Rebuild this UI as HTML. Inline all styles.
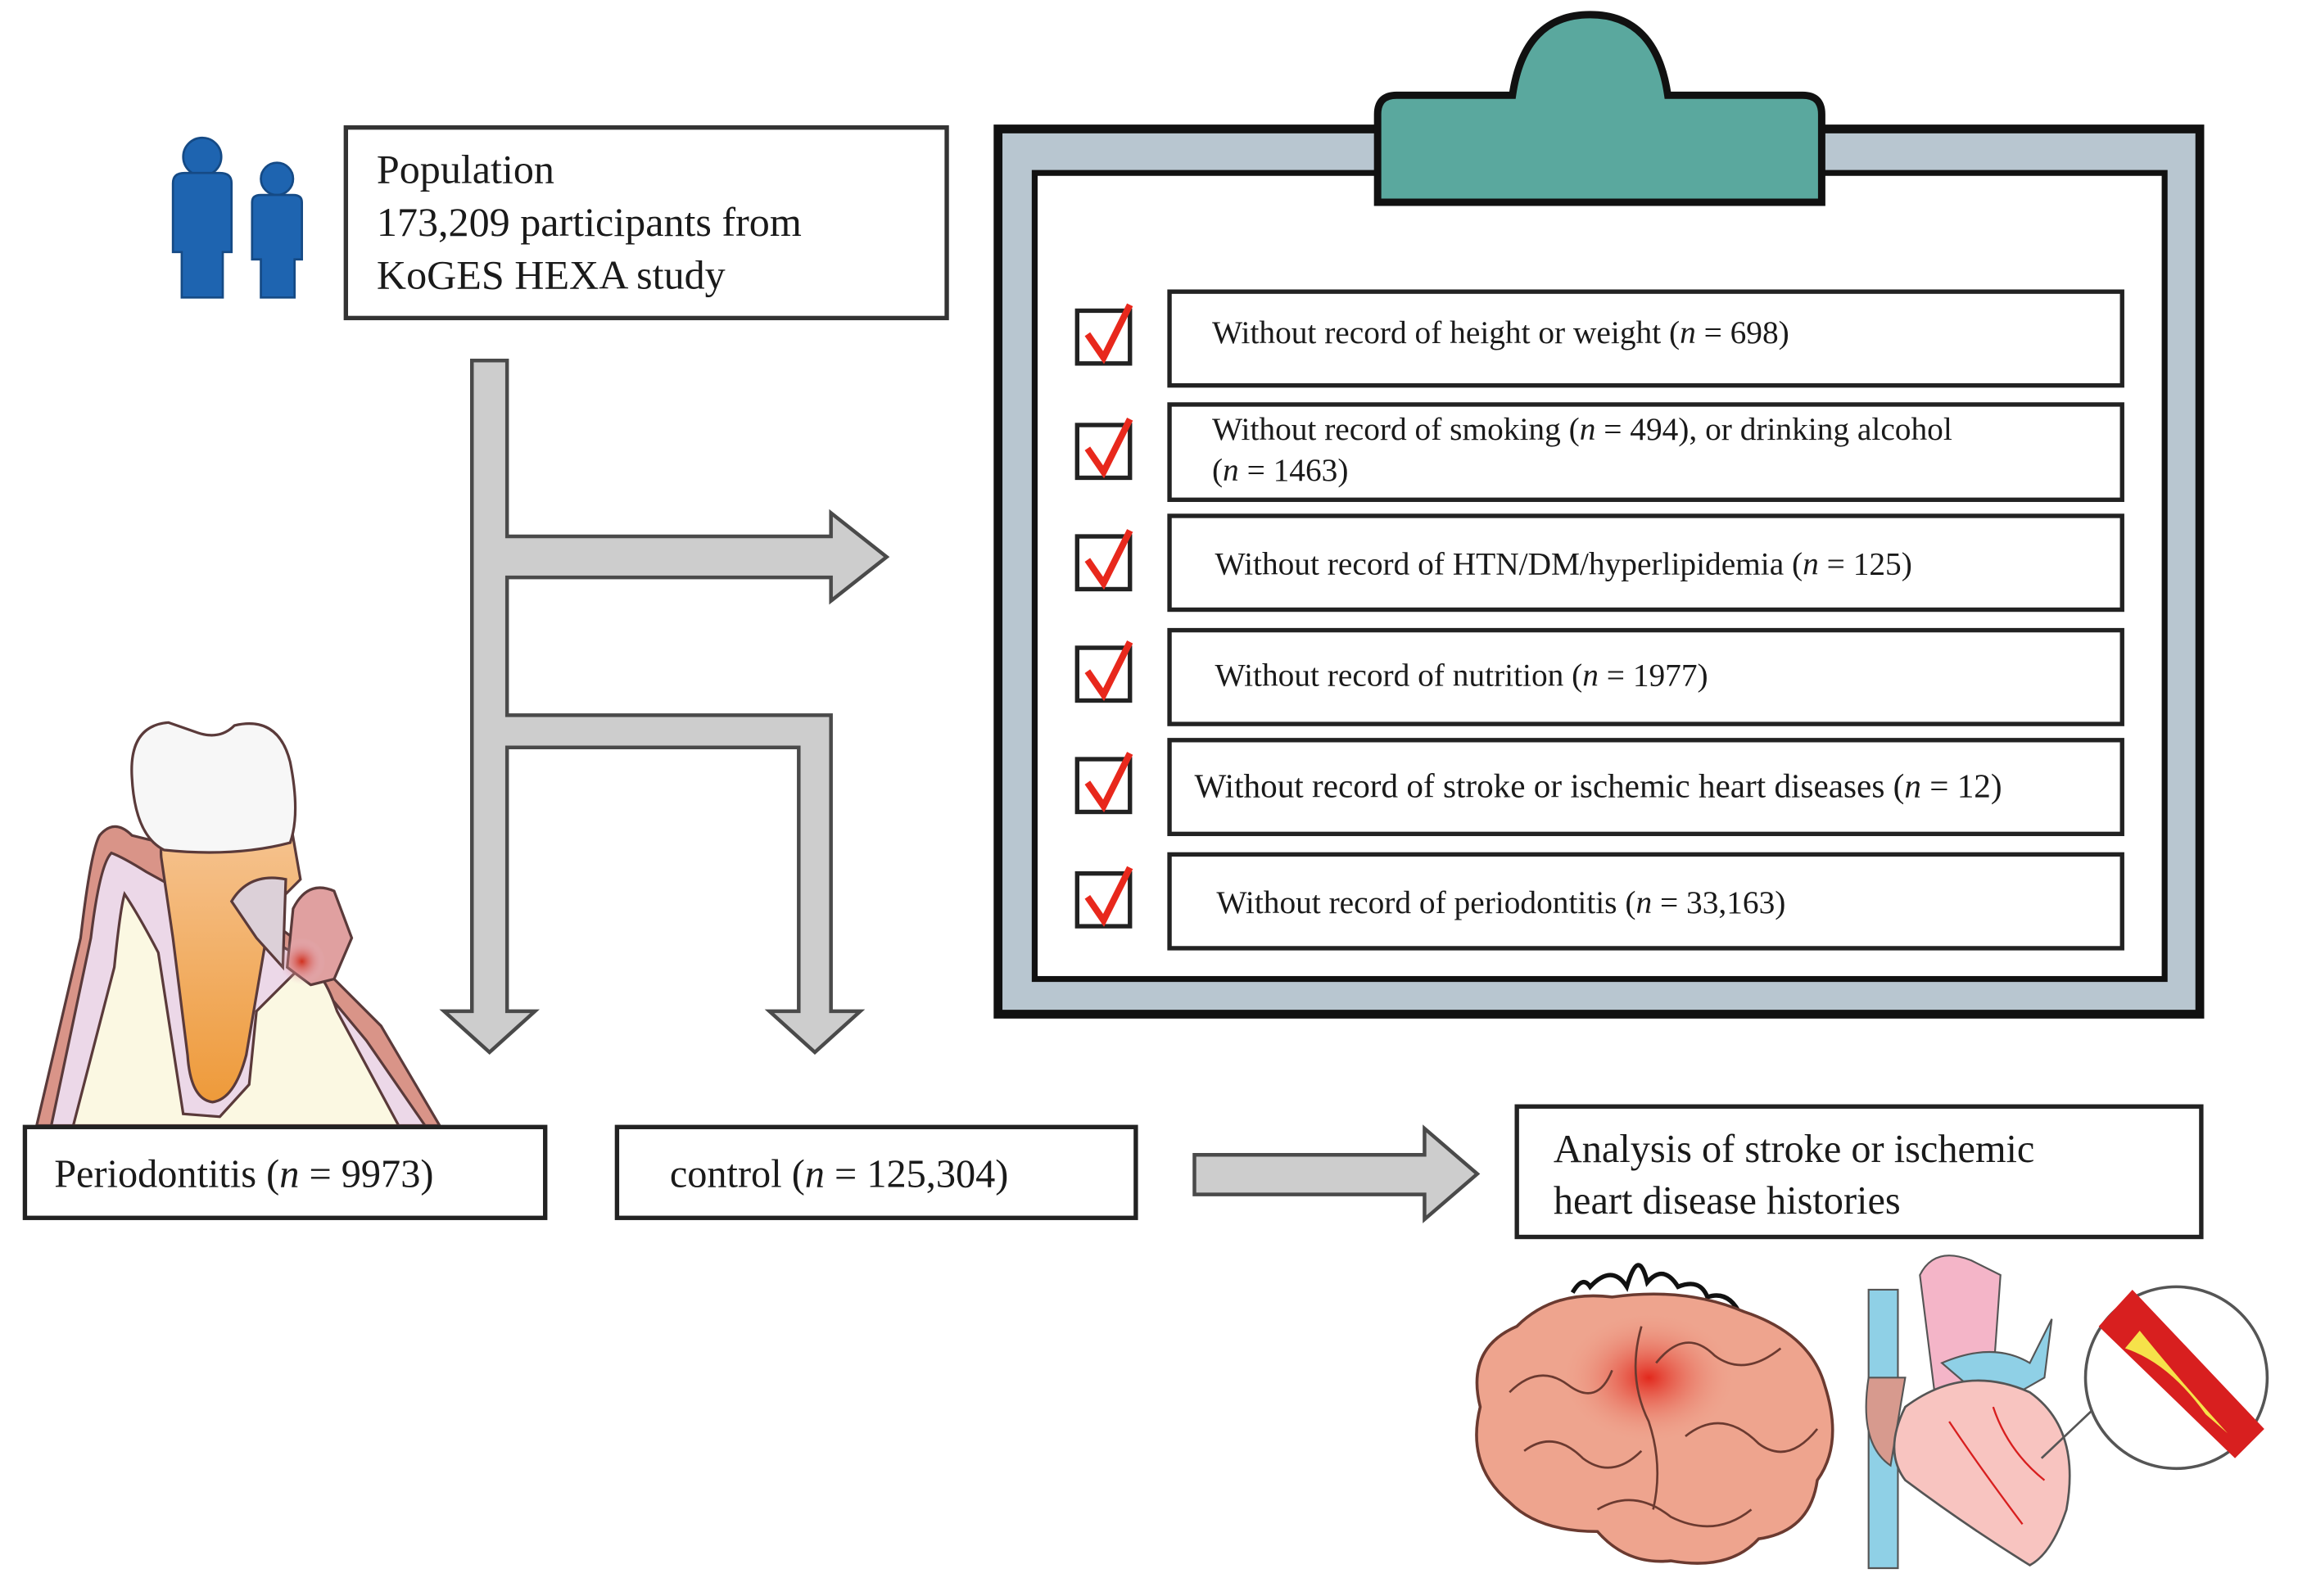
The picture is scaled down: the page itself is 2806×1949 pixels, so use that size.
<!DOCTYPE html>
<html><head><meta charset="utf-8"><style>
html,body{margin:0;padding:0;background:#fff;}
svg{display:block;}
text{font-family:"Liberation Serif",serif;fill:#1a1a1a;}
</style></head><body>
<svg width="2806" height="1949" viewBox="0 0 1568 1089" preserveAspectRatio="none" xmlns="http://www.w3.org/2000/svg">
<defs>
<radialGradient id="inf" cx="0.5" cy="0.5" r="0.5"><stop offset="0" stop-color="#d0301e"/><stop offset="1" stop-color="#e9c6d8" stop-opacity="0"/></radialGradient>
<radialGradient id="brainr" cx="0.5" cy="0.5" r="0.5"><stop offset="0" stop-color="#e2281c"/><stop offset="1" stop-color="#eea28c" stop-opacity="0"/></radialGradient>
<linearGradient id="root" x1="0" y1="0" x2="0" y2="1"><stop offset="0" stop-color="#f6c594"/><stop offset="1" stop-color="#ee9a3a"/></linearGradient>
</defs>

<!-- people -->
<g fill="#1e64b0" stroke="#154a85" stroke-width="1.5">
<circle cx="138" cy="107" r="13"/>
<path d="M118 125 Q118 118 126 118 H150 Q158 118 158 125 V172 H152 V203 H124 V172 H118 Z"/>
<circle cx="189" cy="122" r="11"/>
<path d="M172 138 Q172 133 178 133 H200 Q206 133 206 138 V177 H201 V203 H178 V177 H172 Z"/>
</g>

<!-- population box -->
<rect x="236" y="87" width="410" height="130" fill="#fff" stroke="#333" stroke-width="3"/>
<text x="257" y="125" font-size="28">Population</text>
<text x="257" y="161" font-size="28">173,209 participants from</text>
<text x="257" y="197" font-size="28">KoGES HEXA study</text>

<!-- arrow structure -->
<g fill="#cdcdcd" stroke="#4a4a4a" stroke-width="2.5" stroke-linejoin="miter">
<path d="M322 246 H346 V366 H567 V350 L605 380 L567 410 V394 H346 V488 H567 V690 H587 L556 718 L525 690 H545 V510 H346 V690 H365 L334 718 L303 690 H322 Z"/>
<path d="M815 788 H972 V770 L1008 801 L972 832 V815 H815 Z"/>
</g>

<!-- clipboard -->
<rect x="681" y="88" width="820" height="604" fill="#b8c6d0" stroke="#111" stroke-width="6"/>
<rect x="706" y="118" width="771" height="550" fill="#fff" stroke="#111" stroke-width="4"/>
<path d="M940 78 Q940 65 953 65 H1032 Q1040 10 1085 10 Q1130 10 1138 65 H1230 Q1243 65 1243 78 V138 H940 Z" fill="#5aa89e" stroke="#111" stroke-width="5"/>

<!-- rows -->
<g fill="#fff" stroke="#222" stroke-width="3">
<rect x="798" y="199" width="650" height="64"/>
<rect x="798" y="276" width="650" height="65"/>
<rect x="798" y="352" width="650" height="64"/>
<rect x="798" y="430" width="650" height="64"/>
<rect x="798" y="505" width="650" height="64"/>
<rect x="798" y="583" width="650" height="64"/>
</g>
<g fill="#fff" stroke="#222" stroke-width="3">
<rect x="735" y="212" width="36" height="36"/>
<rect x="735" y="290" width="36" height="36"/>
<rect x="735" y="366" width="36" height="36"/>
<rect x="735" y="442" width="36" height="36"/>
<rect x="735" y="518" width="36" height="36"/>
<rect x="735" y="596" width="36" height="36"/>
</g>
<g fill="none" stroke="#e8281c" stroke-width="4.5">
<path d="M742 228 L753 244 L771 208"/>
<path d="M742 306 L753 322 L771 286"/>
<path d="M742 382 L753 398 L771 362"/>
<path d="M742 458 L753 474 L771 438"/>
<path d="M742 534 L753 550 L771 514"/>
<path d="M742 612 L753 628 L771 592"/>
</g>
<g font-size="22">
<text x="827" y="234">Without record of height or weight (<tspan font-style="italic">n</tspan> = 698)</text>
<text x="827" y="300">Without record of smoking (<tspan font-style="italic">n</tspan> = 494), or drinking alcohol</text>
<text x="827" y="328">(<tspan font-style="italic">n</tspan> = 1463)</text>
<text x="829" y="392">Without record of HTN/DM/hyperlipidemia (<tspan font-style="italic">n</tspan> = 125)</text>
<text x="829" y="468">Without record of nutrition (<tspan font-style="italic">n</tspan> = 1977)</text>
<text x="815" y="544" font-size="23">Without record of stroke or ischemic heart diseases (<tspan font-style="italic">n</tspan> = 12)</text>
<text x="830" y="623">Without record of periodontitis (<tspan font-style="italic">n</tspan> = 33,163)</text>
</g>

<!-- tooth -->
<g stroke="#5a3a3a" stroke-width="1.8">
<path d="M25 768 L55 640 Q62 580 68 570 Q78 558 90 570 L110 575 L160 610 L200 640 L230 670 L260 700 L300 768 Z" fill="#d99488"/>
<path d="M35 768 L62 640 Q68 590 76 582 Q84 585 100 595 L200 650 L250 710 L290 768 Z" fill="#ecd8e8"/>
<path d="M50 768 L78 660 Q82 620 85 610 Q95 625 108 650 L125 760 L150 762 L170 740 L175 690 L205 660 Q218 655 230 690 L272 768 Z" fill="#fbf8e2"/>
<path d="M110 585 Q108 560 130 556 L198 560 L205 600 L185 620 L168 720 Q160 750 145 752 Q130 750 128 720 L118 640 Z" fill="url(#root)"/>
<path d="M158 615 Q170 595 195 600 L193 660 L175 640 Z" fill="#dcd0d8"/>
<path d="M200 620 Q210 600 228 608 L240 640 L228 668 L212 672 L196 660 Z" fill="#e0a0a0"/>
<path d="M90 530 Q88 495 115 493 L135 500 Q150 505 160 495 Q190 488 198 520 Q205 555 198 575 Q160 585 112 580 Q92 570 90 530 Z" fill="#f7f7f7"/>
</g>
<circle cx="206" cy="656" r="16" fill="url(#inf)"/>

<!-- bottom boxes -->
<rect x="17" y="769" width="355" height="62" fill="#fff" stroke="#222" stroke-width="3"/>
<text x="37" y="810" font-size="27">Periodontitis (<tspan font-style="italic">n</tspan> = 9973)</text>
<rect x="421" y="769" width="354" height="62" fill="#fff" stroke="#222" stroke-width="3"/>
<text x="457" y="810" font-size="27">control (<tspan font-style="italic">n</tspan> = 125,304)</text>
<rect x="1035" y="755" width="467" height="89" fill="#fff" stroke="#222" stroke-width="3"/>
<text x="1060" y="793" font-size="27">Analysis of stroke or ischemic</text>
<text x="1060" y="828" font-size="27">heart disease histories</text>

<!-- brain -->
<path d="M1073 882 Q1080 870 1085 878 Q1100 862 1110 878 Q1118 850 1124 875 Q1135 862 1145 878 Q1160 872 1165 885 Q1180 880 1188 898 Q1200 892 1210 920" fill="none" stroke="#111" stroke-width="3"/>
<path d="M1010 960 Q1000 920 1035 905 Q1060 880 1100 885 Q1150 878 1190 895 Q1235 910 1245 945 Q1258 985 1240 1010 Q1235 1045 1200 1050 Q1180 1072 1140 1065 Q1110 1068 1090 1045 Q1050 1045 1030 1025 Q1000 1000 1010 960 Z" fill="#eea48e" stroke="#6b3a30" stroke-width="2"/>
<ellipse cx="1125" cy="940" rx="60" ry="45" fill="url(#brainr)"/>
<g fill="none" stroke="#6b3a30" stroke-width="1.5">
<path d="M1030 950 Q1050 930 1070 945 Q1090 960 1100 935"/>
<path d="M1040 990 Q1060 975 1080 995 Q1100 1010 1120 990"/>
<path d="M1130 930 Q1150 905 1170 925 Q1190 940 1215 920"/>
<path d="M1150 980 Q1175 960 1200 985 Q1220 1000 1240 975"/>
<path d="M1090 1030 Q1115 1015 1140 1035 Q1170 1050 1195 1030"/>
<path d="M1120 905 Q1110 940 1125 970 Q1135 1000 1128 1030"/>
</g>
<!-- heart -->
<path d="M1275 880 V1070 H1295 V880 Z" fill="#8fd0e6" stroke="#555" stroke-width="1.2"/>
<path d="M1310 870 Q1320 850 1345 860 L1365 870 L1360 940 L1320 950 Z" fill="#f4b5c8" stroke="#555" stroke-width="1.2"/>
<path d="M1325 930 Q1360 915 1385 930 L1400 900 L1395 940 L1360 960 Z" fill="#8fd0e6" stroke="#555" stroke-width="1.2"/>
<path d="M1275 940 Q1268 985 1290 1000 L1300 940 Z" fill="#d79a8e" stroke="#555" stroke-width="1.2"/>
<path d="M1300 960 Q1340 930 1385 950 Q1420 975 1410 1030 Q1400 1060 1385 1068 Q1340 1040 1300 1010 Q1285 990 1300 960 Z" fill="#f8c4c0" stroke="#555" stroke-width="1.5"/>
<path d="M1330 970 Q1350 1000 1380 1040 M1360 960 Q1370 990 1395 1010" fill="none" stroke="#d81f1f" stroke-width="1.3"/>
<line x1="1393" y1="995" x2="1430" y2="960" stroke="#555" stroke-width="1.5"/>
<circle cx="1485" cy="940" r="62" fill="#fff" stroke="#555" stroke-width="2"/>
<path d="M1432 905 L1455 880 L1545 975 L1525 995 Z" fill="#d81f1f"/>
<path d="M1450 920 Q1480 930 1505 965 L1520 978 Q1490 945 1460 908 Z" fill="#f6e24a"/>
</svg>
</body></html>
